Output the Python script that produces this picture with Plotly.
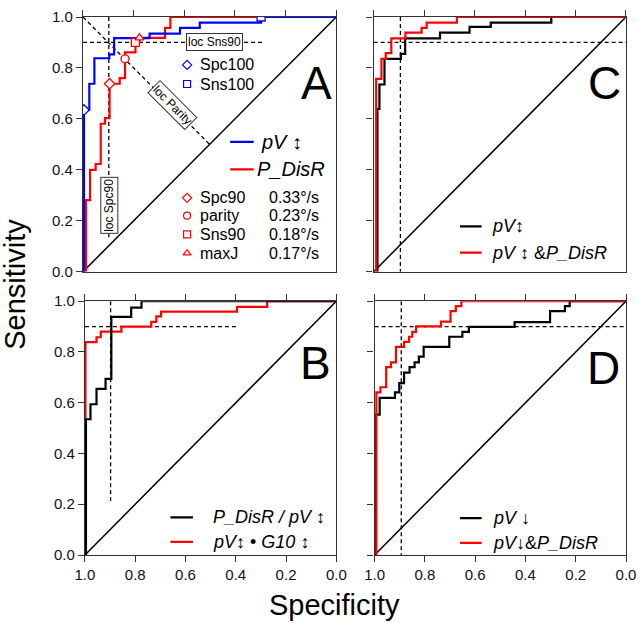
import plotly.graph_objects as go

# ---------------- data (specificity, sensitivity vertices of step ROC curves) -------------
# Panel A
a_pv_spec = [0.996, 0.996, 0.975, 0.955, 0.896, 0.877, 0.737, 0.617, 0.539, 0.297, 0.0]
a_pv_sens = [0.0, 0.635, 0.738, 0.838, 0.853, 0.917, 0.935, 0.957, 0.978, 1.0, 1.0]
a_dr_spec = [0.988, 0.988, 0.972, 0.95, 0.93, 0.913, 0.895, 0.855, 0.834, 0.793, 0.777, 0.676, 0.655, 0.0]
a_dr_sens = [0.0, 0.281, 0.4, 0.423, 0.581, 0.603, 0.738, 0.76, 0.861, 0.9, 0.918, 0.957, 1.0, 1.0]
a_blue_mk_spec = [0.996, 0.297]
a_blue_mk_sens = [0.635, 1.0]
a_red_mk_spec = [0.895, 0.834, 0.793, 0.777]
a_red_mk_sens = [0.738, 0.836, 0.9, 0.918]
a_red_mk_names = ["Spc90", "parity", "Sns90", "maxJ"]
a_red_mk_vals = ["0.33°/s", "0.23°/s", "0.18°/s", "0.17°/s"]
a_blue_mk_names = ["Spc100", "Sns100"]

# Panel B
b_k_spec = [0.996, 0.996, 0.978, 0.954, 0.918, 0.895, 0.816, 0.775, 0.0]
b_k_sens = [0.0, 0.535, 0.594, 0.655, 0.694, 0.938, 0.975, 1.0, 1.0]
b_r_spec = [0.998, 0.998, 0.954, 0.937, 0.855, 0.736, 0.716, 0.697, 0.395, 0.275, 0.0]
b_r_sens = [0.0, 0.839, 0.858, 0.88, 0.9, 0.919, 0.94, 0.959, 0.978, 1.0, 1.0]

# Panel C
c_k_spec = [0.985, 0.985, 0.977, 0.957, 0.892, 0.875, 0.737, 0.62, 0.536, 0.296, 0.0]
c_k_sens = [0.0, 0.639, 0.735, 0.836, 0.855, 0.916, 0.939, 0.961, 0.978, 1.0, 1.0]
c_r_spec = [0.99, 0.99, 0.969, 0.952, 0.93, 0.874, 0.81, 0.79, 0.67, 0.0]
c_r_sens = [0.0, 0.757, 0.836, 0.858, 0.916, 0.939, 0.957, 0.978, 1.0, 1.0]

# Panel D
d_k_spec = [0.995, 0.995, 0.98, 0.919, 0.902, 0.883, 0.861, 0.841, 0.824, 0.805, 0.703, 0.651,
            0.625, 0.443, 0.302, 0.243, 0.224, 0.0]
d_k_sens = [0.0, 0.553, 0.619, 0.641, 0.677, 0.719, 0.74, 0.759, 0.782, 0.82, 0.86, 0.879,
            0.899, 0.918, 0.961, 0.981, 1.0, 1.0]
d_r_spec = [0.993, 0.993, 0.977, 0.954, 0.935, 0.915, 0.883, 0.863, 0.85, 0.835, 0.736, 0.698,
            0.677, 0.655, 0.0]
d_r_sens = [0.0, 0.641, 0.661, 0.74, 0.759, 0.82, 0.84, 0.86, 0.879, 0.901, 0.92, 0.961,
            0.981, 1.0, 1.0]

# chance diagonal and reference lines
diag_spec = [1.0, 0.0]
diag_sens = [0.0, 1.0]
ref_sens90 = 0.9
a_ref_spec90 = 0.898
a_hline_end = 0.29
a_vline_end = 0.135
b_ref_spec90 = 0.898
b_hline_end = 0.395
b_vline_end = 0.213
c_ref_spec90 = 0.894
d_ref_spec90 = 0.894
parity_spec = [1.0, 0.5]
parity_sens = [1.0, 0.5]

tick_vals = [0.0, 0.2, 0.4, 0.6, 0.8, 1.0]
tick_text = ["0.0", "0.2", "0.4", "0.6", "0.8", "1.0"]

# ---------------- figure ----------------
FONT = "Arial, Liberation Sans, sans-serif"
AX = "#333333"
BLUE = "#0000ff"
RED = "#ff0000"

fig = go.Figure()

panels = {
    "A": ("x", "y"),
    "B": ("x2", "y2"),
    "C": ("x3", "y3"),
    "D": ("x4", "y4"),
}


def line(xs, ys, color, panel, width=2.2, dash=None, shape="linear"):
    xa, ya = panels[panel]
    fig.add_trace(go.Scatter(x=xs, y=ys, mode="lines", xaxis=xa, yaxis=ya,
                             line=dict(color=color, width=width, dash=dash, shape=shape),
                             showlegend=False, hoverinfo="skip"))


DASH = "4px,3px"
for p in "ABCD":
    line(diag_spec, diag_sens, "black", p, width=1.5)

# Panel A
line([1.0, a_hline_end], [ref_sens90, ref_sens90], "black", "A", 1.3, DASH)
line([a_ref_spec90, a_ref_spec90], [1.0, a_vline_end], "black", "A", 1.3, DASH)
line(parity_spec, parity_sens, "black", "A", 1.3, DASH)
line(a_dr_spec, a_dr_sens, RED, "A", shape="hv")
line(a_pv_spec, a_pv_sens, BLUE, "A", shape="hv")
fig.add_trace(go.Scatter(x=a_red_mk_spec, y=a_red_mk_sens, mode="markers", xaxis="x", yaxis="y",
                         marker=dict(symbol=["diamond", "circle", "square", "triangle-up"], size=8,
                                     color="white", line=dict(color=RED, width=1.3)),
                         showlegend=False, hoverinfo="skip"))
fig.add_trace(go.Scatter(x=a_blue_mk_spec, y=a_blue_mk_sens, mode="markers", xaxis="x", yaxis="y",
                         marker=dict(symbol=["diamond", "square"], size=8,
                                     color="white", line=dict(color=BLUE, width=1.3)),
                         showlegend=False, hoverinfo="skip"))

# Panel B
line([1.0, b_hline_end], [ref_sens90, ref_sens90], "black", "B", 1.3, DASH)
line([b_ref_spec90, b_ref_spec90], [1.0, b_vline_end], "black", "B", 1.3, DASH)
line(b_r_spec, b_r_sens, RED, "B", shape="hv")
line(b_k_spec, b_k_sens, "black", "B", shape="hv")

# Panel C
line([1.0, 0.0], [ref_sens90, ref_sens90], "black", "C", 1.3, DASH)
line([c_ref_spec90, c_ref_spec90], [1.0, 0.0], "black", "C", 1.3, DASH)
line(c_k_spec, c_k_sens, "black", "C", shape="hv")
line(c_r_spec, c_r_sens, RED, "C", shape="hv")

# Panel D
line([1.0, 0.0], [ref_sens90, ref_sens90], "black", "D", 1.3, DASH)
line([d_ref_spec90, d_ref_spec90], [1.0, 0.0], "black", "D", 1.3, DASH)
line(d_k_spec, d_k_sens, "black", "D", shape="hv")
line(d_r_spec, d_r_sens, RED, "D", shape="hv")

# ---------------- layout ----------------
W, H = 644, 623
ML, MR, MT, MB = 82, 8, 8, 68
PW, PH = W - ML - MR, H - MT - MB


def px(X):
    return (X - ML) / PW


def py(Y):
    return (H - MB - Y) / PH


def xaxis(dom, bottom_labels):
    d = dict(domain=dom, range=[1.0, 0.0], showgrid=False, zeroline=False,
             showline=True, linecolor=AX, linewidth=1.3,
             ticks="outside", ticklen=6, tickwidth=1.2, tickcolor=AX,
             tickvals=tick_vals, ticktext=tick_text,
             tickfont=dict(family=FONT, size=15, color="#111"))
    if bottom_labels:
        d.update(side="bottom", mirror="ticks", showticklabels=True)
    else:
        d.update(side="top", mirror=True, showticklabels=False)
    return d


def yaxis(dom, labels, anchor):
    return dict(domain=dom, range=[0.0, 1.0], showgrid=False, zeroline=False,
                showline=True, linecolor=AX, linewidth=1.3, mirror=True,
                ticks="outside", ticklen=6, tickwidth=1.2, tickcolor=AX,
                tickvals=tick_vals, ticktext=tick_text, showticklabels=labels,
                tickfont=dict(family=FONT, size=15, color="#111"), anchor=anchor)


top_y = [py(267), py(8)]
bot_y = [py(555), py(297)]
fig.update_layout(
    width=W, height=H, margin=dict(l=ML, r=MR, t=MT, b=MB),
    paper_bgcolor="white", plot_bgcolor="white",
    xaxis=dict(xaxis([px(83), px(341)], False), anchor="y"),
    yaxis=yaxis(top_y, True, "x"),
    xaxis2=dict(xaxis([px(85), px(341)], True), anchor="y2"),
    yaxis2=yaxis(bot_y, True, "x2"),
    xaxis3=dict(xaxis([px(379), px(636)], False), anchor="y3"),
    yaxis3=yaxis(top_y, False, "x3"),
    xaxis4=dict(xaxis([px(380), px(636)], True), anchor="y4"),
    yaxis4=yaxis(bot_y, False, "x4"),
)

ann = []
shapes = []


def text(x, y, s, panel, size=15, xanchor="left", **kw):
    xa, ya = panels[panel]
    d = dict(x=x, y=y, xref=xa, yref=ya, text=s, showarrow=False, xanchor=xanchor,
             yanchor="middle", font=dict(family=FONT, size=size, color="black"))
    d.update(kw)
    ann.append(d)


def seg(x0, x1, y, color, panel):
    xa, ya = panels[panel]
    shapes.append(dict(type="line", xref=xa, yref=ya, x0=x0, x1=x1, y0=y, y1=y,
                       line=dict(color=color, width=2.2)))


# Panel letters
text(0.08, 0.74, "A", "A", size=46, xanchor="center")
text(0.082, 0.756, "B", "B", size=46, xanchor="center")
text(0.086, 0.74, "C", "C", size=46, xanchor="center")
text(0.09, 0.735, "D", "D", size=46, xanchor="center")

# Panel A boxed labels
box = dict(bordercolor="#333", borderwidth=1, borderpad=1, bgcolor="white")
text(0.481, 0.9, "loc Sns90", "A", size=12, xanchor="center", **box)
text(0.897, 0.259, "loc Spc90", "A", size=12, xanchor="center", textangle=-90, **box)
text(0.647, 0.655, "loc Parity", "A", size=12, xanchor="center", textangle=45, **box)

# Panel A marker legend
mk_y_blue = [0.812, 0.737]
mk_y_red = [0.29, 0.22, 0.147, 0.073]
fig.add_trace(go.Scatter(x=[0.589] * 2, y=mk_y_blue, mode="markers", xaxis="x", yaxis="y",
                         marker=dict(symbol=["diamond", "square"], size=7, color="white",
                                     line=dict(color=BLUE, width=1.2)),
                         showlegend=False, hoverinfo="skip"))
fig.add_trace(go.Scatter(x=[0.589] * 4, y=mk_y_red, mode="markers", xaxis="x", yaxis="y",
                         marker=dict(symbol=["diamond", "circle", "square", "triangle-up"], size=7,
                                     color="white", line=dict(color=RED, width=1.2)),
                         showlegend=False, hoverinfo="skip"))
for yv, nm in zip(mk_y_blue, a_blue_mk_names):
    text(0.547, yv, nm, "A", size=16)
for yv, nm, val in zip(mk_y_red, a_red_mk_names, a_red_mk_vals):
    text(0.547, yv, nm, "A", size=16)
    text(0.275, yv, val, "A", size=16)

# Panel A line legend
seg(0.419, 0.326, 0.51, BLUE, "A")
seg(0.419, 0.326, 0.402, RED, "A")
text(0.306, 0.51, "<i>pV</i> ↕", "A", size=20)
text(0.322, 0.402, "<i>P_DisR</i>", "A", size=20)

# Panel B legend
seg(0.66, 0.57, 0.148, "black", "B")
seg(0.66, 0.57, 0.052, RED, "B")
text(0.5, 0.148, "<i>P_DisR / pV</i> ↕", "B", size=18)
text(0.5, 0.052, "<i>pV</i>↕ • <i>G10</i> ↕", "B", size=18)

# Panel C legend
seg(0.658, 0.572, 0.178, "black", "C")
seg(0.658, 0.572, 0.075, RED, "C")
text(0.537, 0.178, "<i>pV</i>↕", "C", size=18)
text(0.537, 0.075, "<i>pV</i> ↕ &<i>P_DisR</i>", "C", size=18)

# Panel D legend
seg(0.66, 0.574, 0.145, "black", "D")
seg(0.66, 0.574, 0.048, RED, "D")
text(0.539, 0.145, "<i>pV</i> ↓", "D", size=18)
text(0.539, 0.048, "<i>pV</i>↓&<i>P_DisR</i>", "D", size=18)

# Axis titles
ann.append(dict(x=px(339), y=py(606), xref="paper", yref="paper", text="Specificity",
                showarrow=False, xanchor="center", yanchor="middle",
                font=dict(family=FONT, size=29, color="black")))
ann.append(dict(x=px(13), y=py(280), xref="paper", yref="paper", text="Sensitivity",
                showarrow=False, xanchor="center", yanchor="middle", textangle=-90,
                font=dict(family=FONT, size=29, color="black")))

fig.update_layout(annotations=ann, shapes=shapes)

fig.write_html("out.html", config={"displayModeBar": False})
